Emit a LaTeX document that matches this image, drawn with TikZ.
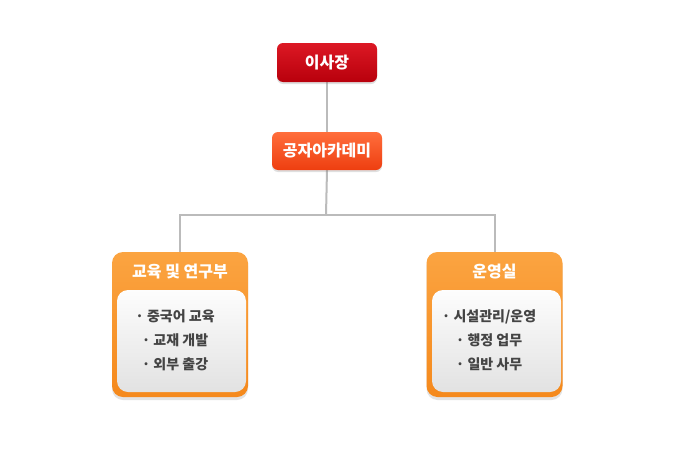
\documentclass[tikz,border=0pt]{standalone}
\usepackage{fontspec}
\setmainfont{Noto Sans CJK KR}
\usepackage{tikz}
\usetikzlibrary{shadows}
\usetikzlibrary{backgrounds}
\usetikzlibrary{positioning}
\definecolor{bossHi}{HTML}{DC1824}
\definecolor{bossLo}{HTML}{B8000C}
\definecolor{acadHi}{HTML}{FF6E3C}
\definecolor{acadLo}{HTML}{EE3E10}
\definecolor{deptHi}{HTML}{FBA441}
\definecolor{deptLo}{HTML}{F5891C}
\definecolor{paneHi}{HTML}{FDFDFD}
\definecolor{paneLo}{HTML}{E2E2E2}
\definecolor{wireC}{HTML}{BBBBBB}
\definecolor{itemC}{HTML}{444444}

\begin{document}
\begin{tikzpicture}[x=1pt, y=-1pt]
    \tikzstyle{hd}=[rounded corners=6pt, text=white, inner sep=0pt,
      font=\bfseries\fontsize{16}{18}\selectfont,
      drop shadow={opacity=.25, shadow xshift=0pt, shadow yshift=-2pt}]
    \tikzstyle{dept}=[rounded corners=11pt, inner sep=0pt, top color=deptHi, bottom color=deptLo,
      minimum width=136pt, minimum height=145pt,
      drop shadow={opacity=.22, shadow xshift=0pt, shadow yshift=-3pt}]
    \tikzstyle{pane}=[rounded corners=11pt, inner sep=0pt, top color=paneHi, bottom color=paneLo,
      minimum width=129pt, minimum height=102pt]
    \tikzstyle{ttl}=[text=white, font=\bfseries\fontsize{16}{18}\selectfont]
    \tikzstyle{itm}=[text=itemC, align=center, font=\bfseries\fontsize{14}{24}\selectfont]
    \tikzstyle{wire}=[draw=wireC, line width=2pt]
    \node[hd, top color=bossHi, bottom color=bossLo, minimum width=100pt, minimum height=39pt] (boss) at (327,62.5) {이사장};
    \node[hd, top color=acadHi, bottom color=acadLo, minimum width=110pt, minimum height=38pt] (acad) at (327,151) {공자아카데미};
    \node[dept] (L) at (180,324.5) {};
    \node[pane] (Lp) at (181.5,341) {};
    \node[ttl] (Lt) at (180,272) {교육 및 연구부};
    \node[itm] (Li) at (175,340) {· 중국어 교육\\· 교재 개발\\· 외부 출강};
    \node[dept] (R) at (494.5,324.5) {};
    \node[pane] (Rp) at (496.5,341) {};
    \node[ttl] (Rt) at (494.5,272) {운영실};
    \node[itm] (Ri) at (489,340) {· 시설관리/운영\\· 행정 업무\\· 일반 사무};
    \coordinate (J) at (326,215);
    \begin{scope}[on background layer]
    \fill[white] (0,0) rectangle (691,450);
    \draw[wire] (boss) -- (acad);
    \draw[wire] (acad.south) -- (J);
    \foreach \d in {L,R}
    {\draw[wire] (J) -| (\d.north);}
    \end{scope}
    \useasboundingbox (0,0) rectangle (691,450);
\end{tikzpicture}
\end{document}
